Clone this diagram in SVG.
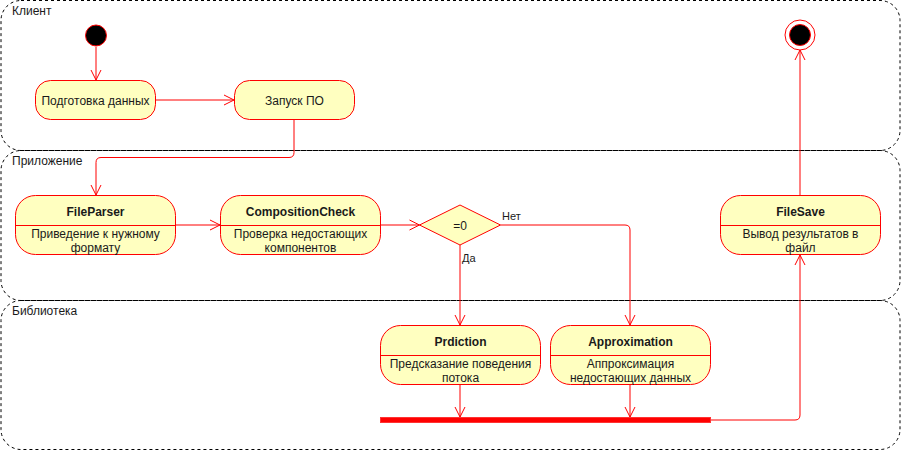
<svg xmlns="http://www.w3.org/2000/svg" width="901" height="451" viewBox="0 0 901 451">
<defs>
<style>
.lane{fill:none;stroke:#000;stroke-width:1;stroke-dasharray:3 3}
.lt{font-family:"Liberation Sans",Arial,sans-serif;font-size:12px;fill:#1a1a1a}
.box{fill:#ffffc0;stroke:#ff0000;stroke-width:1}
.sep{stroke:#ff0000;stroke-width:1}
.t{font-family:"Liberation Sans",Arial,sans-serif;font-size:12px;fill:#1a1a1a;text-anchor:middle}
.b{font-weight:bold}
.c{fill:none;stroke:#ff0000;stroke-width:1}
.lbl{font-family:"Liberation Sans",Arial,sans-serif;font-size:11px;fill:#1a1a1a}
</style>
<marker id="arr" viewBox="0 0 12 12" refX="11" refY="6" markerWidth="12" markerHeight="12" markerUnits="userSpaceOnUse" orient="auto">
<path d="M1,1 L11,6 L1,11" fill="none" stroke="#ff0000" stroke-width="1"/>
</marker>
</defs>
<g id="lanes">
<rect class="lane" x="1" y="0.5" width="899" height="150" rx="20" ry="20"/>
<text class="lt" x="12" y="15">Клиент</text>
<rect class="lane" x="1" y="150.5" width="899" height="150" rx="20" ry="20"/>
<text class="lt" x="12" y="165">Приложение</text>
<rect class="lane" x="1" y="300.5" width="899" height="149" rx="20" ry="20"/>
<text class="lt" x="12" y="315">Библиотека</text>
</g>
<g id="connectors">
<path class="c" d="M96,47 V80" marker-end="url(#arr)"/>
<path class="c" d="M155,100 H234" marker-end="url(#arr)"/>
<path class="c" d="M294,120 V152.5 Q294,157.5 289,157.5 H101 Q96,157.5 96,162.5 V195" marker-end="url(#arr)"/>
<path class="c" d="M175.5,225 H220" marker-end="url(#arr)"/>
<path class="c" d="M380.5,225 H419.5" marker-end="url(#arr)"/>
<path class="c" d="M500.5,225 H625 Q630,225 630,230 V325" marker-end="url(#arr)"/>
<path class="c" d="M460,245 V325" marker-end="url(#arr)"/>
<path class="c" d="M460,385 V417" marker-end="url(#arr)"/>
<path class="c" d="M630,385 V417" marker-end="url(#arr)"/>
<path class="c" d="M710.5,420 H795 Q800,420 800,415 V255" marker-end="url(#arr)"/>
<path class="c" d="M800,195 V50" marker-end="url(#arr)"/>
</g>
<g id="start">
<circle cx="96" cy="35.5" r="10.5" fill="#000" stroke="#ff0000" stroke-width="1"/>
</g>
<g id="prep">
<rect class="box" x="35.5" y="80.5" width="120" height="39" rx="15" ry="15"/>
<text class="t" x="95.5" y="104.5">Подготовка данных</text>
</g>
<g id="launch">
<rect class="box" x="234.5" y="80.5" width="120" height="39" rx="15" ry="15"/>
<text class="t" x="294.5" y="104.5">Запуск ПО</text>
</g>
<g id="fileparser">
<rect class="box" x="15.5" y="195.5" width="160" height="59" rx="20" ry="20"/>
<line class="sep" x1="15.5" y1="225.5" x2="175.5" y2="225.5"/>
<text class="t b" x="95.5" y="216">FileParser</text>
<text class="t" x="95.5" y="238">Приведение к нужному</text>
<text class="t" x="95.5" y="252">формату</text>
</g>
<g id="compcheck">
<rect class="box" x="220.5" y="195.5" width="160" height="59" rx="20" ry="20"/>
<line class="sep" x1="220.5" y1="225.5" x2="380.5" y2="225.5"/>
<text class="t b" x="300.5" y="216">CompositionCheck</text>
<text class="t" x="300.5" y="238">Проверка недостающих</text>
<text class="t" x="300.5" y="252">компонентов</text>
</g>
<g id="decision">
<path class="box" d="M460,205 L500.5,225 L460,245 L419.5,225 Z"/>
<text class="t" x="460" y="229.5">=0</text>
<text class="lbl" x="502" y="220">Нет</text>
<text class="lbl" x="462" y="262">Да</text>
</g>
<g id="prediction">
<rect class="box" x="380.5" y="325.5" width="160" height="59" rx="20" ry="20"/>
<line class="sep" x1="380.5" y1="355.5" x2="540.5" y2="355.5"/>
<text class="t b" x="460.5" y="346">Prdiction</text>
<text class="t" x="460.5" y="368">Предсказание поведения</text>
<text class="t" x="460.5" y="382">потока</text>
</g>
<g id="approx">
<rect class="box" x="550.5" y="325.5" width="160" height="59" rx="20" ry="20"/>
<line class="sep" x1="550.5" y1="355.5" x2="710.5" y2="355.5"/>
<text class="t b" x="630.5" y="346">Approximation</text>
<text class="t" x="630.5" y="368">Аппроксимация</text>
<text class="t" x="630.5" y="382">недостающих данных</text>
</g>
<g id="join">
<rect x="380.5" y="417.5" width="330" height="5" fill="#ff0000" stroke="#ff3333" stroke-width="1"/>
</g>
<g id="filesave">
<rect class="box" x="720.5" y="195.5" width="160" height="59" rx="20" ry="20"/>
<line class="sep" x1="720.5" y1="225.5" x2="880.5" y2="225.5"/>
<text class="t b" x="800.5" y="216">FileSave</text>
<text class="t" x="800.5" y="238">Вывод результатов в</text>
<text class="t" x="800.5" y="252">файл</text>
</g>
<g id="end">
<circle cx="800" cy="35" r="15" fill="none" stroke="#ff0000" stroke-width="1"/>
<circle cx="800" cy="35" r="10.5" fill="#000" stroke="#ff0000" stroke-width="1"/>
</g>
</svg>
